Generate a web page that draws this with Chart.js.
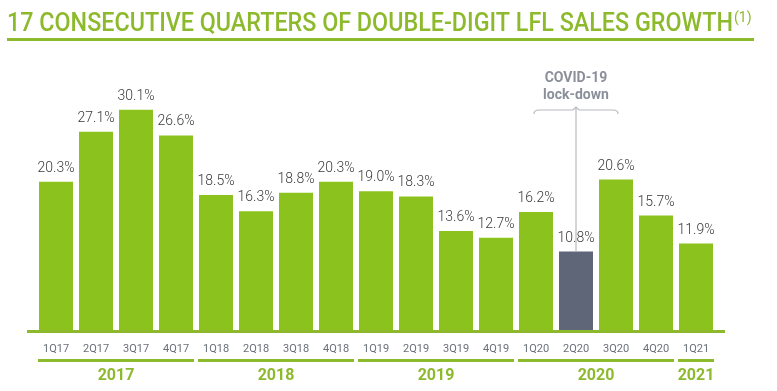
<!DOCTYPE html>
<html>
<head>
<meta charset="utf-8">
<script src="https://cdn.jsdelivr.net/npm/chart.js@4"></script>
<style>
  html, body { margin: 0; padding: 0; background: #fff; }
  #wrap { width: 777px; height: 391px; position: relative; }
</style>
</head>
<body>
<div id="wrap"><canvas id="grafico" width="777" height="391"></canvas></div>
<script>
// Dados
const trimestres = ['1Q17', '2Q17', '3Q17', '4Q17', '1Q18', '2Q18', '3Q18', '4Q18',
  '1Q19', '2Q19', '3Q19', '4Q19', '1Q20', '2Q20', '3Q20', '4Q20', '1Q21'];
const crescimento = [20.3, 27.1, 30.1, 26.6, 18.5, 16.3, 18.8, 20.3,
  19.0, 18.3, 13.6, 12.7, 16.2, 10.8, 20.6, 15.7, 11.9];
const anos = ['2017', '2018', '2019', '2020', '2021'];
const anoInicio = [0, 4, 8, 12, 16];
const anoFim = [3, 7, 11, 15, 16];
const titulo = '17 CONSECUTIVE QUARTERS OF DOUBLE-DIGIT LFL SALES GROWTH';
const covidTexto = ['COVID-19', 'lock-down'];
const covidIndice = 13;

const VERDE = '#8cc21e';
const CINZA_BARRA = '#5f6677';
const VERDE_TITULO = '#8dba2c';

const cores = crescimento.map((v, i) => (i === covidIndice ? CINZA_BARRA : VERDE));

// Plugin que desenha textos e decorações
const decoracao = {
  id: 'decoracao',
  afterDatasetsDraw(chart) {
    const ctx = chart.ctx;
    const x = chart.scales.x;
    const y = chart.scales.y;
    const meta = chart.getDatasetMeta(0);
    ctx.save();

    // titulo
    ctx.fillStyle = VERDE_TITULO;
    ctx.font = '500 25px Roboto';
    ctx.textBaseline = 'alphabetic';
    ctx.textAlign = 'left';
    const largura = ctx.measureText(titulo).width;
    const escala = 726 / largura;
    ctx.save();
    ctx.translate(7, 31);
    ctx.scale(escala, 1);
    ctx.fillText(titulo, 0, 0);
    ctx.restore();
    ctx.font = '400 14px Roboto';
    ctx.fillText('(1)', 7 + largura * escala + 1, 22);

    ctx.fillRect(7, 38, 747, 3);

    // linha de base
    ctx.fillRect(27, y.getPixelForValue(0) - 1, 698, 3);

    // valores acima das barras
    ctx.fillStyle = '#3a3a3a';
    ctx.font = '300 14px Roboto';
    ctx.textAlign = 'center';
    ctx.textBaseline = 'alphabetic';
    meta.data.forEach((bar, i) => {
      ctx.fillText(crescimento[i].toFixed(1) + '%', bar.x, bar.y - 10);
    });

    // rótulos dos trimestres
    ctx.fillStyle = '#6b6f78';
    ctx.font = '11px Roboto';
    ctx.textBaseline = 'middle';
    trimestres.forEach((t, i) => {
      ctx.fillText(t, x.getPixelForValue(i), 349);
    });

    // anos
    anos.forEach((a, k) => {
      const b1 = meta.data[anoInicio[k]];
      const b2 = meta.data[anoFim[k]];
      const x1 = b1.x - b1.width / 2 - 1;
      const x2 = b2.x + b2.width / 2 + 1;
      ctx.fillStyle = VERDE_TITULO;
      ctx.fillRect(x1, 359, x2 - x1, 3);
      ctx.font = 'bold 16px Roboto';
      ctx.fillText(a, (x1 + x2) / 2, 376);
    });

    // anotação COVID
    const bc = meta.data[covidIndice];
    const cx = bc.x;
    ctx.fillStyle = '#8a8f9a';
    ctx.font = 'bold 14px Roboto';
    ctx.fillText(covidTexto[0], cx, 78);
    ctx.fillText(covidTexto[1], cx, 95);
    ctx.strokeStyle = '#b5b9c0';
    ctx.lineWidth = 1.2;
    const bx1 = cx - 42;
    const bx2 = cx + 42;
    ctx.beginPath();
    ctx.moveTo(bx1, 114);
    ctx.quadraticCurveTo(bx1, 110, bx1 + 5, 110);
    ctx.lineTo(cx - 3, 110);
    ctx.lineTo(cx, 107);
    ctx.lineTo(cx + 3, 110);
    ctx.lineTo(bx2 - 5, 110);
    ctx.quadraticCurveTo(bx2, 110, bx2, 114);
    ctx.stroke();
    ctx.beginPath();
    ctx.moveTo(cx, 107);
    ctx.lineTo(cx, bc.y);
    ctx.stroke();

    ctx.restore();
  }
};

new Chart(document.getElementById('grafico'), {
  type: 'bar',
  data: {
    labels: trimestres,
    datasets: [{
      data: crescimento,
      backgroundColor: cores,
      borderWidth: 0,
      categoryPercentage: 1,
      barPercentage: 0.85,
    }],
  },
  options: {
    responsive: false,
    animation: false,
    layout: { padding: { left: 36, right: 61, top: 37, bottom: 60 } },
    scales: {
      x: { display: false },
      y: { display: false, min: 0, max: 40 },
    },
    plugins: {
      legend: { display: false },
      tooltip: { enabled: false },
    },
  },
  plugins: [decoracao],
});
</script>
</body>
</html>
